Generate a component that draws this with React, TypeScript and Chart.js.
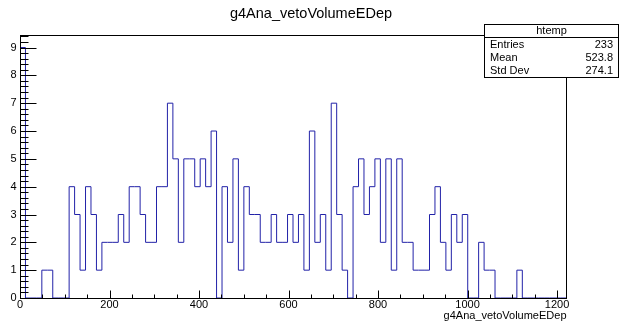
import React, { useEffect, useRef } from "react";
import { Chart, registerables } from "chart.js";

Chart.register(...registerables);

// ---- data ----
const chartTitle = "g4Ana_vetoVolumeEDep";
const xAxisTitle = "g4Ana_vetoVolumeEDep";
const xMin = 0;
const xMax = 1220;
const yMax = 9.45;
const binCounts = [
  9, 0, 0, 0, 1, 1, 0, 0, 0, 4,
  3, 1, 4, 3, 1, 2, 2, 2, 3, 2,
  4, 4, 3, 2, 2, 4, 4, 7, 5, 2,
  5, 5, 4, 5, 4, 6, 0, 4, 2, 5,
  1, 4, 3, 3, 2, 2, 3, 2, 2, 3,
  2, 3, 1, 6, 2, 3, 1, 7, 3, 1,
  0, 4, 5, 3, 4, 5, 2, 5, 1, 5,
  2, 2, 1, 1, 1, 3, 4, 2, 1, 3,
  2, 3, 0, 0, 2, 1, 1, 0, 0, 0,
  0, 1, 0, 0, 0, 0, 0, 0, 0, 0,
];
const xTickValues = [0, 200, 400, 600, 800, 1000, 1200];
const xMinorStep = 50;
const yTickValues = [0, 1, 2, 3, 4, 5, 6, 7, 8, 9];
const yMinorStep = 0.2;
const statsName = "htemp";
const statsLabels = ["Entries", "Mean", "Std Dev"];
const statsValues = ["233", "523.8", "274.1"];

const FONT = "'Liberation Sans', Arial, Helvetica, sans-serif";
const LINE_COLOR = "#2222a8";

const rootPlugin = {
  id: "rootStyle",
  afterDraw(chart: any) {
    const { ctx, chartArea } = chart;
    const xs = chart.scales.x;
    const ys = chart.scales.y;
    const L = Math.round(chartArea.left) + 0.5;
    const R = Math.round(chartArea.right) + 0.5;
    const T = Math.round(chartArea.top) + 0.5;
    const B = Math.round(chartArea.bottom) + 0.5;
    ctx.save();
    ctx.strokeStyle = "#000";
    ctx.lineWidth = 1;
    // frame
    ctx.strokeRect(L, T, R - L, B - T);

    // y ticks (inside, pointing right)
    ctx.beginPath();
    for (let v = 0; v <= yMax + 1e-9; v += yMinorStep) {
      const py = Math.round(ys.getPixelForValue(v)) + 0.5;
      const isMajor = Math.abs(v - Math.round(v)) < 1e-6;
      const len = isMajor ? 16 : 8;
      ctx.moveTo(L, py);
      ctx.lineTo(L + len, py);
    }
    // x ticks (inside, pointing up)
    for (let v = xMin; v <= xMax + 1e-9; v += xMinorStep) {
      const px = Math.round(xs.getPixelForValue(v)) + 0.5;
      const isMajor = xTickValues.includes(Math.round(v));
      const len = isMajor ? 8 : 4;
      ctx.moveTo(px, B);
      ctx.lineTo(px, B - len);
    }
    ctx.stroke();

    // labels
    ctx.fillStyle = "#000";
    ctx.font = `11px ${FONT}`;
    ctx.textAlign = "right";
    ctx.textBaseline = "middle";
    yTickValues.forEach((v) => {
      ctx.fillText(String(v), L - 4, ys.getPixelForValue(v));
    });
    ctx.textAlign = "center";
    ctx.textBaseline = "middle";
    xTickValues.forEach((v) => {
      ctx.fillText(String(v), xs.getPixelForValue(v), 304.5);
    });
    ctx.textAlign = "right";
    ctx.fillText(xAxisTitle, R, 315.5);

    // title
    ctx.font = `14.5px ${FONT}`;
    ctx.textAlign = "center";
    ctx.fillText(chartTitle, 311, 13.5);

    // stats box
    const bx = 484.5, by = 24.5, bw = 134, bh = 53;
    ctx.fillStyle = "#fff";
    ctx.fillRect(bx, by, bw, bh);
    ctx.strokeRect(bx, by, bw, bh);
    ctx.beginPath();
    ctx.moveTo(bx, 37.5);
    ctx.lineTo(bx + bw, 37.5);
    ctx.stroke();
    ctx.fillStyle = "#000";
    ctx.font = `11px ${FONT}`;
    ctx.textAlign = "center";
    ctx.fillText(statsName, bx + bw / 2, 31);
    const rowY = [44.5, 57.5, 70.5];
    statsLabels.forEach((lab, i) => {
      ctx.textAlign = "left";
      ctx.fillText(lab, 490, rowY[i]);
      ctx.textAlign = "right";
      ctx.fillText(statsValues[i], 613, rowY[i]);
    });
    ctx.restore();
  },
};

export default function App() {
  const canvasRef = useRef<HTMLCanvasElement | null>(null);

  useEffect(() => {
    if (!canvasRef.current) return;
    const binWidth = (xMax - xMin) / binCounts.length;
    const points = [
      { x: xMin, y: 0 },
      ...binCounts.map((v, i) => ({ x: xMin + i * binWidth, y: v })),
      { x: xMax, y: 0 },
    ];
    const chart = new Chart(canvasRef.current, {
      type: "line",
      data: {
        datasets: [
          {
            label: "htemp",
            data: points,
            stepped: "before",
            borderColor: LINE_COLOR,
            borderWidth: 1,
            pointRadius: 0,
            fill: false,
          },
        ],
      },
      options: {
        animation: false,
        responsive: false,
        devicePixelRatio: 1,
        layout: { padding: { left: 20, right: 56, top: 35, bottom: 24 } },
        plugins: {
          legend: { display: false },
          tooltip: { enabled: false },
          title: { display: false },
        },
        scales: {
          x: { type: "linear", min: xMin, max: xMax, display: false },
          y: { type: "linear", min: 0, max: yMax, display: false },
        },
      },
      plugins: [rootPlugin],
    });
    return () => chart.destroy();
  }, []);

  return (
    <div style={{ position: "fixed", left: 0, top: 0, width: 622, height: 322, background: "#fff" }}>
      <canvas ref={canvasRef} width={622} height={322} style={{ display: "block" }} />
    </div>
  );
}
